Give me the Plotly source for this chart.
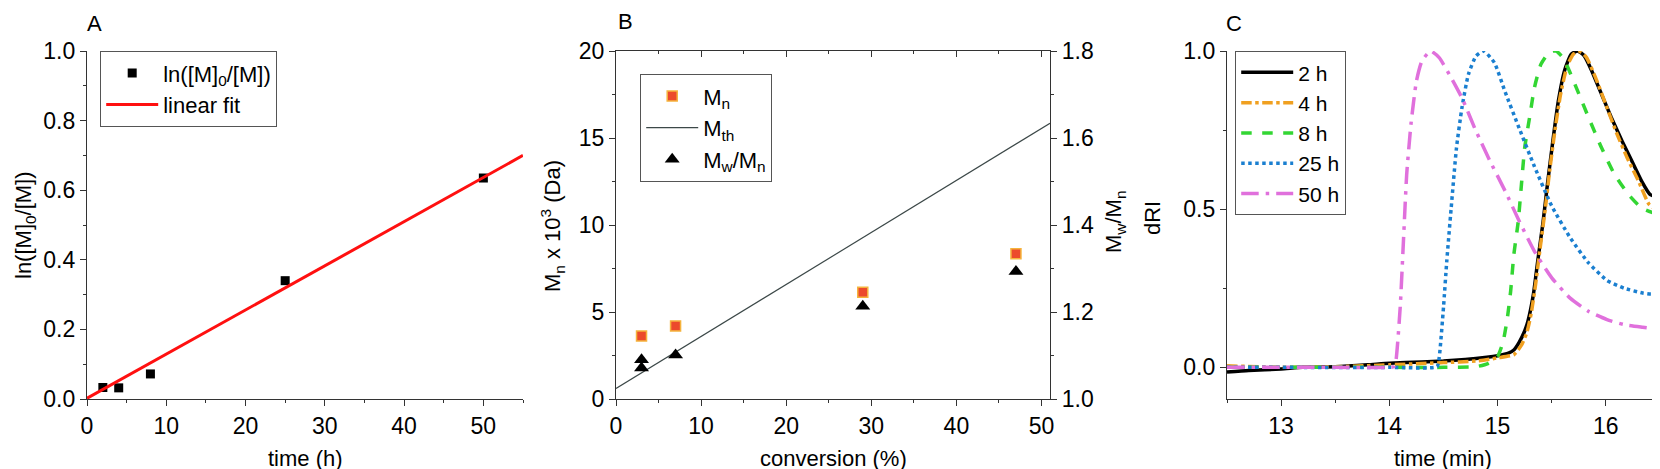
import plotly.graph_objects as go

# panel A - kinetics
time_h = [2, 4, 8, 25, 50]
ln_m0_m = [0.033, 0.032, 0.072, 0.340, 0.635]
fit_x = [0, 55]
fit_y = [0.002, 0.700]

# panel B - Mn vs conversion
conv_mn = [3, 7, 29, 47]
mn_kda = [3.62, 4.2, 6.14, 8.35]
mth_x = [0, 51]
mth_y = [0.6, 15.85]
conv_pdi = [3, 3, 7, 29, 47]
pdi = [1.090, 1.071, 1.101, 1.213, 1.293]

# panel C - GPC traces
t_2h = [12.5, 12.7, 13.0, 13.2, 13.5, 13.8, 14.0, 14.3, 14.5, 14.7, 14.9, 15.0, 15.1,
        15.15, 15.2, 15.25, 15.28, 15.33, 15.37, 15.42, 15.46, 15.51, 15.56, 15.62,
        15.68, 15.74, 15.80, 15.87, 15.96, 16.05, 16.15, 16.24, 16.33, 16.41, 16.47, 16.5]
dri_2h = [-0.015, -0.01, -0.005, 0.0, 0.002, 0.008, 0.013, 0.017, 0.02, 0.025, 0.032,
          0.037, 0.045, 0.055, 0.08, 0.115, 0.146, 0.23, 0.335, 0.46, 0.578, 0.715,
          0.84, 0.94, 0.99, 1.0, 0.985, 0.937, 0.863, 0.79, 0.715, 0.652, 0.589, 0.546,
          0.541, 0.557]
t_4h = [12.5, 13.0, 13.5, 14.0, 14.5, 14.8, 15.0, 15.15, 15.22, 15.27, 15.31, 15.35,
        15.39, 15.44, 15.48, 15.53, 15.58, 15.64, 15.70, 15.76, 15.82, 15.9, 16.0, 16.1,
        16.2, 16.3, 16.4, 16.5]
dri_4h = [0.005, 0.0, 0.002, 0.008, 0.015, 0.02, 0.03, 0.04, 0.07, 0.11, 0.17, 0.26,
          0.37, 0.5, 0.62, 0.75, 0.86, 0.95, 0.99, 0.998, 0.98, 0.92, 0.83, 0.74, 0.66,
          0.59, 0.515, 0.49]
t_8h = [12.5, 13.0, 14.0, 14.5, 14.8, 14.91, 15.0, 15.05, 15.09, 15.12, 15.15, 15.19,
        15.22, 15.25, 15.30, 15.34, 15.40, 15.48, 15.54, 15.60, 15.65, 15.74, 15.84,
        15.96, 16.08, 16.21, 16.33, 16.5]
dri_8h = [0.0, 0.0, 0.0, 0.0, 0.002, 0.012, 0.035, 0.08, 0.156, 0.24, 0.357, 0.46,
          0.578, 0.694, 0.80, 0.884, 0.958, 0.997, 1.0, 0.98, 0.947, 0.873, 0.79, 0.694,
          0.61, 0.546, 0.504, 0.48]
t_25h = [12.5, 13.0, 14.0, 14.44, 14.46, 14.50, 14.53, 14.57, 14.62, 14.67, 14.73,
         14.80, 14.87, 14.97, 15.07, 15.20, 15.34, 15.50, 15.67, 15.84, 16.01, 16.17,
         16.34, 16.42, 16.5]
dri_25h = [0.0, 0.0, 0.0, 0.002, 0.03, 0.19, 0.335, 0.5, 0.694, 0.82, 0.926, 0.984,
           1.0, 0.963, 0.87, 0.755, 0.635, 0.51, 0.41, 0.33, 0.275, 0.25, 0.235, 0.232,
           0.24]
t_50h = [12.5, 13.0, 13.5, 14.0, 14.04, 14.06, 14.10, 14.13, 14.16, 14.20, 14.25,
         14.30, 14.38, 14.46, 14.57, 14.67, 14.80, 14.93, 15.07, 15.20, 15.34, 15.50,
         15.67, 15.84, 16.01, 16.17, 16.34, 16.46]
dri_50h = [0.0, 0.0, 0.0, 0.0, 0.002, 0.02, 0.19, 0.40, 0.61, 0.77, 0.905, 0.968, 1.0,
           0.979, 0.916, 0.852, 0.747, 0.652, 0.557, 0.462, 0.367, 0.283, 0.219, 0.177,
           0.151, 0.135, 0.127, 0.122]

FONT = "Liberation Sans, Arial, sans-serif"
AX = "#333333"

fig = go.Figure()

# A
fig.add_trace(go.Scatter(x=time_h, y=ln_m0_m, mode="markers", name="ln([M]<sub>0</sub>/[M])",
                         marker=dict(symbol="square", size=9, color="black"),
                         xaxis="x", yaxis="y", legend="legend"))
fig.add_trace(go.Scatter(x=fit_x, y=fit_y, mode="lines", name="linear fit",
                         line=dict(color="#ff1010", width=3),
                         xaxis="x", yaxis="y", legend="legend"))

# B
fig.add_trace(go.Scatter(x=conv_mn, y=mn_kda, mode="markers", name="M<sub>n</sub>",
                         marker=dict(symbol="square", size=10, color="#ec4a2c",
                                     line=dict(color="#f5b33c", width=1.5)),
                         xaxis="x2", yaxis="y2", legend="legend2"))
fig.add_trace(go.Scatter(x=mth_x, y=mth_y, mode="lines", name="M<sub>th</sub>",
                         line=dict(color="#3c4848", width=1.2),
                         xaxis="x2", yaxis="y2", legend="legend2"))
fig.add_trace(go.Scatter(x=conv_pdi, y=pdi, mode="markers", name="M<sub>w</sub>/M<sub>n</sub>",
                         marker=dict(symbol="triangle-up", size=13, color="black"),
                         xaxis="x2", yaxis="y3", legend="legend2"))
# top mirror axis of B (inward ticks)
fig.add_trace(go.Scatter(x=[], y=[], xaxis="x4", yaxis="y2", showlegend=False))

# C
traces_c = [
    ("2 h", t_2h, dri_2h, "#000000", "solid"),
    ("4 h", t_4h, dri_4h, "#f0a020", "dashdot"),
    ("8 h", t_8h, dri_8h, "#33d633", "dash"),
    ("25 h", t_25h, dri_25h, "#1a7fd0", "dot"),
    ("50 h", t_50h, dri_50h, "#e070dc", "longdashdot"),
]
for name, tx, ty, col, dash in traces_c:
    fig.add_trace(go.Scatter(x=tx, y=ty, mode="lines", name=name,
                             line=dict(color=col, width=3.5, dash=dash, shape="spline", smoothing=0.5),
                             xaxis="x3", yaxis="y4", legend="legend3"))

YD = [1 - 391 / 469, 1 - 43 / 469]
tick_font = dict(family=FONT, size=23, color="black")


def axis(domain, rng, dtick, minor_dtick, **kw):
    d = dict(domain=domain, range=rng, dtick=dtick, showgrid=False, zeroline=False,
             automargin=False,
             showline=True, linecolor=AX, linewidth=1.3, ticks="outside", ticklen=6,
             tickcolor=AX, tickwidth=1.2, tickfont=tick_font,
             minor=dict(dtick=minor_dtick, ticks="outside", ticklen=3, tickcolor=AX, tickwidth=1))
    d.update(kw)
    return d


fig.update_layout(
    width=1660, height=469,
    margin=dict(l=0, r=0, t=0, b=0, autoexpand=False),
    paper_bgcolor="white", plot_bgcolor="white",
    font=dict(family=FONT, size=22, color="black"),
    xaxis=axis([79 / 1660, 515 / 1660], [0, 55], 10, 5, anchor="y", tick0=0),
    yaxis=axis(YD, [0, 1.0], 0.2, 0.1, anchor="x", tickformat=".1f"),
    xaxis2=axis([608 / 1660, 1042 / 1660], [0, 51], 10, 5, anchor="y2", tick0=0),
    yaxis2=axis(YD, [0, 20], 5, 2.5, anchor="x2"),
    yaxis3=axis(YD, [1.0, 1.8], 0.2, 0.1, anchor="x2", overlaying="y2", side="right",
                tickformat=".1f"),
    xaxis4=axis([608 / 1660, 1042 / 1660], [0, 51], 10, 5, anchor="y2", overlaying="x2",
                side="top", ticks="inside", showticklabels=False,
                minor=dict(dtick=5, ticks="inside", ticklen=3, tickcolor=AX, tickwidth=1)),
    xaxis3=axis([1219 / 1660, 1652 / 1660], [12.5, 16.5], 1, 0.5, anchor="y4"),
    yaxis4=axis(YD, [-0.1, 1.0], 0.5, 0.25, anchor="x3", tickvals=[0, 0.5, 1.0],
                tickformat=".1f",
                minor=dict(tickvals=[0.25, 0.75], ticks="outside", ticklen=3, tickcolor=AX, tickwidth=1)),
    legend=dict(x=92 / 1660, y=1 - 43 / 469, xanchor="left", yanchor="top",
                bordercolor="#555555", borderwidth=1.2, bgcolor="white",
                font=dict(family=FONT, size=22), itemwidth=52, tracegroupgap=0),
    legend2=dict(x=632 / 1660, y=1 - 66 / 469, xanchor="left", yanchor="top",
                 bordercolor="#555555", borderwidth=1.2, bgcolor="white",
                 font=dict(family=FONT, size=22), itemwidth=52),
    legend3=dict(x=1227 / 1660, y=1 - 43 / 469, xanchor="left", yanchor="top",
                 bordercolor="#555555", borderwidth=1.2, bgcolor="white",
                 font=dict(family=FONT, size=21), itemwidth=52),
)

# titles and panel letters
notes = [
    ("A", 86, 16, 0, 22),
    ("B", 617, 14, 0, 22),
    ("C", 1226, 15, 0, 22),
    ("time (h)", 297, 450, 0, 22),
    ("conversion (%)", 825, 450, 0, 22),
    ("time (min)", 1435, 450, 0, 22),
    ("ln([M]<sub>0</sub>/[M])", 17, 217, -90, 22),
    ("M<sub>n</sub> x 10<sup>3</sup> (Da)", 545, 218, -90, 22),
    ("M<sub>w</sub>/M<sub>n</sub>", 1107, 214, -90, 22),
    ("dRI", 1145, 210, -90, 22),
]
for text, px, py, ang, size in notes:
    fig.add_annotation(text=text, x=px / 1660, y=1 - py / 469, xref="paper", yref="paper",
                       showarrow=False, textangle=ang, xanchor="center", yanchor="middle",
                       font=dict(family=FONT, size=size, color="black"))

fig.write_html("out.html")
